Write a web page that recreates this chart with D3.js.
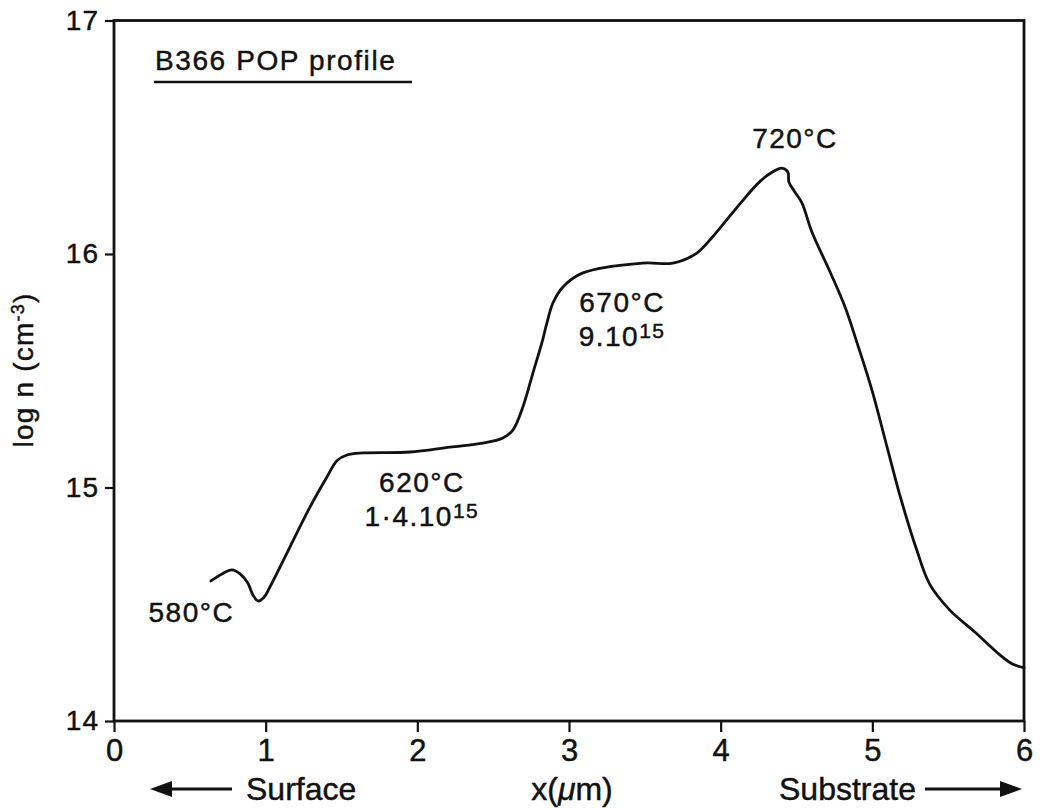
<!DOCTYPE html>
<html>
<head>
<meta charset="utf-8">
<script src="https://cdn.jsdelivr.net/npm/d3@7"></script>
<style>
  html, body { margin: 0; padding: 0; background: #fff; }
  svg { display: block; }
  text { font-family: "Liberation Sans", Arial, Helvetica, sans-serif; fill: #111; stroke: #111; stroke-width: 0.45px; }
</style>
</head>
<body>
<svg id="chart" width="1040" height="808"></svg>
<script>
// Depth profile x (µm) and log n (cm^-3)
const depth = [0.639, 0.712, 0.778, 0.831, 0.883, 0.916, 0.949, 0.989, 1.028, 1.160, 1.292, 1.404, 1.470, 1.536, 1.641, 1.951, 2.215, 2.432, 2.564, 2.630, 2.696, 2.762, 2.821, 2.854, 2.894, 2.960, 3.092, 3.487, 3.685, 3.843, 3.949, 4.127, 4.258, 4.344, 4.403, 4.443, 4.450, 4.489, 4.535, 4.601, 4.720, 4.819, 4.904, 4.997, 5.102, 5.181, 5.293, 5.379, 5.511, 5.676, 5.841, 5.920, 6.000];
const logN  = [14.600, 14.630, 14.647, 14.630, 14.590, 14.540, 14.514, 14.530, 14.574, 14.745, 14.916, 15.045, 15.115, 15.139, 15.148, 15.152, 15.173, 15.190, 15.212, 15.246, 15.345, 15.490, 15.619, 15.704, 15.790, 15.859, 15.919, 15.961, 15.961, 16.004, 16.075, 16.215, 16.310, 16.352, 16.368, 16.351, 16.308, 16.266, 16.220, 16.095, 15.925, 15.775, 15.610, 15.418, 15.161, 14.968, 14.732, 14.585, 14.475, 14.381, 14.283, 14.245, 14.228];

const xTicks = [0, 1, 2, 3, 4, 5, 6];
const yTicks = [14, 15, 16, 17];

// Growth-temperature annotations
const notes = [
  { x: 0.51, y: 14.424, t: "580°C" },
  { x: 2.03, y: 14.98, t: "620°C", m: "1·4.10", e: "15" },
  { x: 3.35, y: 15.75, t: "670°C", m: "9.10", e: "15" },
  { x: 4.49, y: 16.455, t: "720°C" }
];

const svg = d3.select("#chart");
const plotLeft = 114, plotRight = 1024, plotTop = 20.5, plotBottom = 721;

const x = d3.scaleLinear().domain([0, 6]).range([plotLeft, plotRight]);
const y = d3.scaleLinear().domain([14, 17]).range([plotBottom, plotTop]);

// Frame
svg.append("rect")
  .attr("x", plotLeft).attr("y", plotTop)
  .attr("width", plotRight - plotLeft).attr("height", plotBottom - plotTop)
  .attr("fill", "none").attr("stroke", "#111").attr("stroke-width", 2.8);

const narrow = "'Liberation Sans Narrow', 'Liberation Sans', Arial, sans-serif";

// Bottom axis
const xAxis = svg.append("g")
  .attr("transform", `translate(0,${plotBottom})`)
  .call(d3.axisBottom(x).tickValues(xTicks).tickSize(11).tickPadding(7).tickFormat(d3.format("d")));
xAxis.select(".domain").remove();
xAxis.selectAll("line").attr("stroke", "#111").attr("stroke-width", 2.2);
xAxis.selectAll("text")
  .style("font-family", narrow)
  .style("font-size", "31px").attr("fill", "#111");

// Left axis
const yAxis = svg.append("g")
  .attr("transform", `translate(${plotLeft},0)`)
  .call(d3.axisLeft(y).tickValues(yTicks).tickSize(9).tickPadding(6).tickFormat(d3.format("d")));
yAxis.select(".domain").remove();
yAxis.selectAll("line").attr("stroke", "#111").attr("stroke-width", 2.2);
yAxis.selectAll("text")
  .style("font-size", "28px").style("letter-spacing", "1px").attr("fill", "#111");

// Profile curve
const line = d3.line()
  .x((d, i) => x(depth[i]))
  .y((d, i) => y(logN[i]))
  .curve(d3.curveCatmullRom.alpha(0.5));
svg.append("path")
  .datum(depth)
  .attr("d", line)
  .attr("fill", "none").attr("stroke", "#111")
  .attr("stroke-width", 2.8).attr("stroke-linejoin", "round").attr("stroke-linecap", "round");

// Title with underline
svg.append("text")
  .attr("x", 155).attr("y", 70)
  .style("font-size", "28px").style("letter-spacing", "1.6px")
  .text("B366 POP profile");
svg.append("line")
  .attr("x1", 154).attr("x2", 412).attr("y1", 82).attr("y2", 82)
  .attr("stroke", "#111").attr("stroke-width", 2.4);

// Annotations
notes.forEach(n => {
  const g = svg.append("g");
  g.append("text")
    .attr("x", x(n.x)).attr("y", y(n.y))
    .attr("text-anchor", "middle")
    .style("font-size", "28px").style("letter-spacing", "1.5px")
    .text(n.t);
  if (n.m) {
    const t2 = g.append("text")
      .attr("x", x(n.x)).attr("y", y(n.y) + 34)
      .attr("text-anchor", "middle")
      .style("font-size", "28px").style("letter-spacing", "1.5px");
    t2.append("tspan").text(n.m);
    t2.append("tspan").attr("dy", -8).style("font-size", "21px").text(n.e);
  }
});

// Y axis title
svg.append("text")
  .attr("transform", "translate(33,370) rotate(-90)")
  .attr("text-anchor", "middle")
  .style("font-size", "28px").style("letter-spacing", "1.2px")
  .call(t => {
    t.append("tspan").text("log n (cm");
    t.append("tspan").attr("dy", -9).style("font-size", "18px").text("-3");
    t.append("tspan").attr("dy", 9).text(")");
  });

// X axis caption and direction arrows
svg.append("text").attr("x", 572).attr("y", 800).attr("text-anchor", "middle")
  .style("font-family", narrow).style("font-size", "32px")
  .call(t => {
    t.append("tspan").text("x(");
    t.append("tspan").style("font-style", "italic").text("μ");
    t.append("tspan").text("m)");
  });
svg.append("text").attr("x", 246).attr("y", 800)
  .style("font-family", narrow).style("font-size", "32px").text("Surface");
svg.append("text").attr("x", 779).attr("y", 800)
  .style("font-family", narrow).style("font-size", "32px").text("Substrate");

function arrow(x1, x2, yy) {
  const dir = Math.sign(x2 - x1);
  svg.append("line")
    .attr("x1", x1).attr("x2", x2 - dir * 14).attr("y1", yy).attr("y2", yy)
    .attr("stroke", "#111").attr("stroke-width", 2.8);
  svg.append("path")
    .attr("d", `M${x2},${yy} L${x2 - dir * 22},${yy - 8} L${x2 - dir * 22},${yy + 8} Z`)
    .attr("fill", "#111");
}
arrow(232, 150, 789);
arrow(925, 1022, 789);
</script>
</body>
</html>
